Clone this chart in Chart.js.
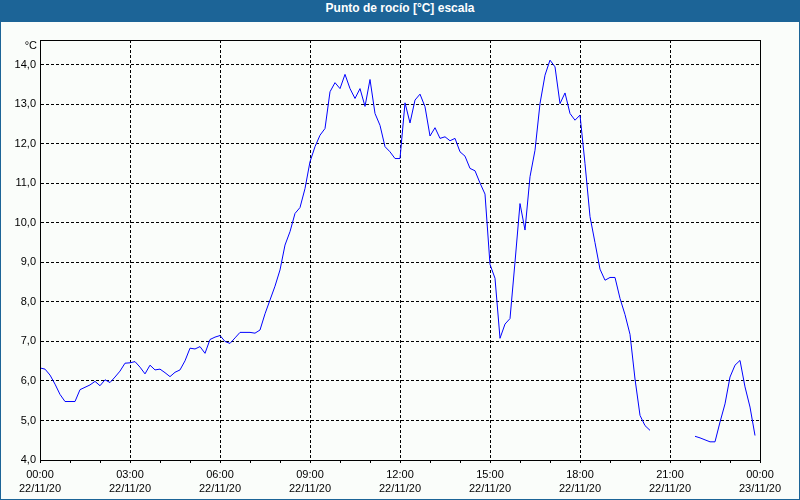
<!DOCTYPE html>
<html>
<head>
<meta charset="utf-8">
<script src="https://cdn.jsdelivr.net/npm/chart.js@4.4.1/dist/chart.umd.min.js"></script>
<style>
  html, body { margin: 0; padding: 0; background: #fafdfa; }
  #wrap { position: relative; width: 800px; height: 500px; box-sizing: border-box; border: 1px solid #1c6497; background: #fafdfa; overflow: hidden; }
  #title { height: 21px; line-height: 21px; background: #1c6497; color: #fff; font: bold 12px "Liberation Sans", Arial, sans-serif; text-align: center; }
  canvas { display: block; }
</style>
</head>
<body>
<div id="wrap">
  <div id="title">Punto de rocío [°C] escala</div>
  <canvas id="c" width="798" height="477"></canvas>
</div>
<script>
// Sampling times: minutes after 22/11/20 00:00, every 10 minutes
const sampleMinutes = Array.from({ length: 144 }, (_, i) => i * 10);

// Dew point (°C); null = no data
const dewPoint = [
  6.33, 6.30, 6.15, 5.92, 5.66, 5.48, 5.48, 5.48, 5.78, 5.84,
  5.90, 5.99, 5.88, 6.03, 5.96, 6.10, 6.25, 6.45, 6.46, 6.49,
  6.35, 6.18, 6.40, 6.28, 6.30, 6.21, 6.11, 6.22, 6.28, 6.51,
  6.83, 6.81, 6.87, 6.70, 7.05, 7.11, 7.15, 7.00, 6.95, 7.09,
  7.23, 7.23, 7.23, 7.21, 7.29, 7.70, 8.05, 8.40, 8.81, 9.44,
  9.78, 10.24, 10.39, 10.87, 11.55, 11.93, 12.22, 12.39, 13.32, 13.55,
  13.40, 13.76, 13.40, 13.15, 13.40, 12.95, 13.63, 12.77, 12.47, 11.93,
  11.80, 11.63, 11.63, 13.04, 12.53, 13.11, 13.26, 12.94, 12.20, 12.41,
  12.14, 12.18, 12.08, 12.14, 11.80, 11.69, 11.38, 11.32, 11.01, 10.73,
  8.95, 8.60, 7.08, 7.44, 7.58, 9.01, 10.49, 9.82, 11.17, 11.84,
  13.02, 13.74, 14.12, 13.95, 13.02, 13.29, 12.77, 12.60, 12.73, 11.50,
  10.16, 9.50, 8.83, 8.55, 8.62, 8.62, 8.09, 7.68, 7.18, 6.05,
  5.13, 4.87, 4.75, null, null, null, null, null, null, null,
  null, 4.60, 4.56, 4.51, 4.46, 4.46, 4.96, 5.42, 6.10, 6.40,
  6.52, 5.85, 5.34, 4.62
];

// Axis tick labels
const yTicks = [4, 5, 6, 7, 8, 9, 10, 11, 12, 13, 14];
const xTickMinutes = [0, 180, 360, 540, 720, 900, 1080, 1260, 1440];
const xTickTimes = ["00:00", "03:00", "06:00", "09:00", "12:00", "15:00", "18:00", "21:00", "00:00"];
const xTickDates = ["22/11/20", "22/11/20", "22/11/20", "22/11/20", "22/11/20", "22/11/20", "22/11/20", "22/11/20", "23/11/20"];
const unitLabel = "°C";

const FONT = { family: '"Liberation Sans", Arial, sans-serif', size: 11 };

const framePlugin = {
  id: 'frame',
  afterDraw(chart) {
    const { ctx, chartArea: a } = chart;
    ctx.save();
    ctx.strokeStyle = '#000';
    ctx.lineWidth = 1;
    ctx.setLineDash([]);
    ctx.strokeRect(Math.round(a.left) + 0.5, Math.round(a.top) + 0.5, Math.round(a.right - a.left), Math.round(a.bottom - a.top));
    ctx.fillStyle = '#000';
    ctx.font = '11px ' + FONT.family;
    ctx.textAlign = 'right';
    ctx.textBaseline = 'middle';
    ctx.fillText(unitLabel, a.left - 3, a.top + 6);
    ctx.restore();
  }
};

new Chart(document.getElementById('c'), {
  type: 'line',
  data: {
    datasets: [{
      data: sampleMinutes.map((m, i) => ({ x: m, y: dewPoint[i] })),
      borderColor: '#0000ff',
      borderWidth: 1,
      pointRadius: 0,
      tension: 0,
      spanGaps: false,
      fill: false
    }]
  },
  options: {
    responsive: false,
    animation: false,
    devicePixelRatio: 1,
    layout: { padding: { top: 18, right: 39, left: 0, bottom: 0 } },
    plugins: { legend: { display: false }, tooltip: { enabled: false }, title: { display: false } },
    scales: {
      x: {
        type: 'linear',
        min: 0,
        max: 1440,
        afterBuildTicks(scale) {
          const t = [];
          for (let m = 0; m <= 1440; m += 60) t.push({ value: m });
          scale.ticks = t;
        },
        afterFit(scale) { scale.height = 39; },
        border: { display: true, color: '#000', width: 1, dash: [3, 2] },
        grid: {
          color: (ctx) => (ctx.tick && xTickMinutes.includes(ctx.tick.value)) ? '#000' : 'rgba(0,0,0,0)',
          tickColor: '#000',
          tickBorderDash: [],
          tickLength: 3,
          lineWidth: 1,
          drawTicks: true
        },
        ticks: {
          autoSkip: false,
          maxRotation: 0,
          minRotation: 0,
          padding: 5,
          color: '#000',
          font: { family: FONT.family, size: 11, lineHeight: '14px' },
          callback(v) {
            const k = xTickMinutes.indexOf(v);
            return k >= 0 ? [xTickTimes[k], xTickDates[k]] : '';
          }
        }
      },
      y: {
        type: 'linear',
        min: 4,
        max: 14.63,
        afterBuildTicks(scale) { scale.ticks = yTicks.map(v => ({ value: v })); },
        afterFit(scale) { scale.width = 39; },
        border: { display: true, color: '#000', width: 1, dash: [3, 2] },
        grid: {
          color: '#000',
          lineWidth: 1,
          drawTicks: false
        },
        ticks: {
          padding: 4,
          color: '#000',
          font: { family: FONT.family, size: 11 },
          callback(v) { return v.toFixed(1).replace('.', ','); }
        }
      }
    }
  },
  plugins: [framePlugin]
});
</script>
</body>
</html>
